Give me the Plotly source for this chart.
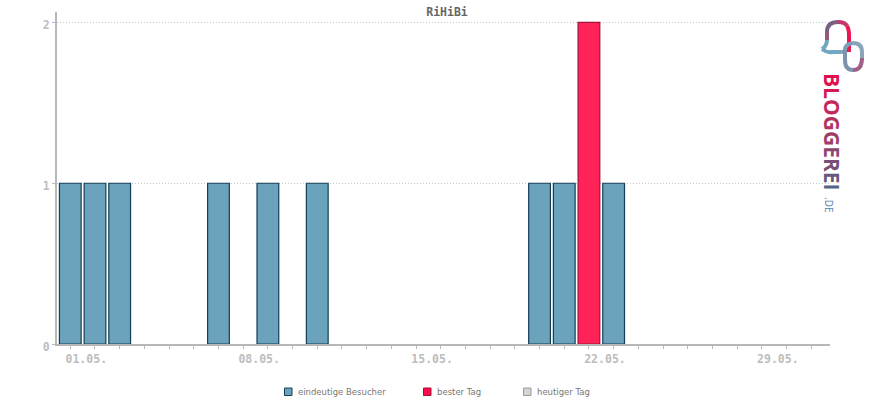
import plotly.graph_objects as go

# days of the month, index 0 = 01.05.
days = list(range(31))
visitors = [1, 1, 1, None, None, None, 1, None, 1, None, 1, None, None, None, None, None, None, None, None, 1, 1, None,
            1, None, None, None, None, None, None, None, None]
best_day = [None] * 21 + [2] + [None] * 9
today = [None] * 31

tick_labels = ["01.05.", "", "", "", "", "", "", "08.05.", "", "", "", "", "", "", "15.05.", "", "", "", "", "", "", "22.05.",
               "", "", "", "", "", "", "29.05.", "", ""]

title = "RiHiBi"
legend_names = ["eindeutige Besucher", "bester Tag", "heutiger Tag"]
legend_fill = ["#6ca3bc", "#ff0a47", "#d4d4d4"]
legend_edge = ["#123f55", "#a3103c", "#9a9a9a"]
legend_left = [284, 423, 523]

logo_letters = list("BLOGGEREI")
logo_colors = ["#e0104f", "#d41a55", "#c4275c", "#b23363", "#a03c68", "#8c4770", "#785075", "#66587e", "#566488"]

W, H = 870, 400
L, R, T, B = 57, 40, 12, 56
AXIS_GREY = "#b8b8b8"
MONO = "DejaVu Sans Mono"


def px(x):
    return (x - L) / (W - L - R)


def py(y):
    return (H - B - y) / (H - T - B)


def path(points):
    # points are pixel positions of the page
    out = []
    for cmd, *xy in points:
        pts = [f"{px(xy[i]):.5f},{py(xy[i + 1]):.5f}" for i in range(0, len(xy), 2)]
        out.append(cmd + " " + " ".join(pts))
    return " ".join(out)


fig = go.Figure()

fig.add_trace(go.Bar(x=days, y=visitors, name=legend_names[0], width=0.88,
                     marker=dict(color="#6ca3bc", line=dict(color="#123f55", width=1.2))))
fig.add_trace(go.Bar(x=days, y=best_day, name=legend_names[1], width=0.88,
                     marker=dict(color="#ff2358", line=dict(color="#a3103c", width=1.2))))
fig.add_trace(go.Bar(x=days, y=today, name=legend_names[2], width=0.88,
                     marker=dict(color="#d4d4d4", line=dict(color="#a0a0a0", width=1.2))))

# logo: speech bubble and ring
segments = [
    ("#6fa8c0", [("M", 822, 49), ("Q", 827, 53, 832, 52), ("L", 840, 52)]),
    ("#7fa0b8", [("M", 840, 52), ("Q", 846, 52, 848, 49)]),
    ("#6fa8c0", [("M", 822, 49), ("Q", 827, 46, 827, 40)]),
    ("#935a80", [("M", 827, 40), ("L", 827, 32)]),
    ("#7a5f85", [("M", 827, 32), ("Q", 827, 22, 838, 22)]),
    ("#c03a68", [("M", 838, 22), ("Q", 845, 22, 847, 26)]),
    ("#f0134f", [("M", 847, 26), ("Q", 849, 29, 849, 36), ("L", 849, 48)]),
    ("#e0204f", [("M", 849, 48), ("L", 849, 52)]),
    ("#7aa0b8", [("M", 845, 50), ("Q", 845, 44, 853, 43)]),
    ("#8aa5bb", [("M", 853, 43), ("Q", 862, 43, 862, 52), ("L", 862, 58)]),
    ("#a06085", [("M", 862, 58), ("Q", 862, 70, 853, 70)]),
    ("#7f92ad", [("M", 853, 70), ("Q", 845, 70, 845, 60), ("L", 845, 50)]),
]
shapes = [dict(type="path", xref="paper", yref="paper", path=path(pts), layer="above",
               line=dict(color=col, width=4)) for col, pts in segments]

annotations = [
    dict(x=px(832), y=py(132), xref="paper", yref="paper", showarrow=False, textangle=90,
         text="<b>" + "".join(f'<span style="color:{c}">{ch}</span>' for ch, c in zip(logo_letters, logo_colors)) + "</b>",
         font=dict(family="Open Sans", size=21, color="#000000"), xanchor="center", yanchor="middle"),
    dict(x=px(829), y=py(204), xref="paper", yref="paper", showarrow=False, textangle=90, text=".DE",
         font=dict(family="Open Sans", size=10, color="#4f86a8"), xanchor="center", yanchor="middle"),
]

# legend row, built by hand because the swatches sit tight against the text
for name, fill, edge, left in zip(legend_names, legend_fill, legend_edge, legend_left):
    shapes.append(dict(type="rect", xref="paper", yref="paper", x0=px(left + 0.5), x1=px(left + 8), y0=py(395.5), y1=py(388),
                       fillcolor=fill, line=dict(color=edge, width=1)))
    annotations.append(dict(x=px(left + 11.5), y=py(392), xref="paper", yref="paper", showarrow=False, text=name,
                            xanchor="left", yanchor="middle",
                            font=dict(family="DejaVu Sans", size=8.5, color="#777777")))

x_range = [-0.538, 30.76]

fig.update_layout(
    width=W, height=H, autosize=False,
    paper_bgcolor="white", plot_bgcolor="white",
    margin=dict(l=L, r=R, t=T, b=B, autoexpand=False),
    barmode="overlay",
    title=dict(text=f"<b>{title}</b>", x=447 / W, xanchor="center", y=1 - 12 / H, yanchor="middle",
               font=dict(family=MONO, size=11.5, color="#666666")),
    showlegend=False,
    xaxis=dict(range=x_range, tickmode="array", tickvals=days, ticktext=tick_labels,
               tickfont=dict(family=MONO, size=11.5, color="#bdbdbd", weight="bold"), ticklabelshift=16, ticklabeloverflow="allow",
               ticks="outside", ticklen=3, tickcolor=AXIS_GREY, tickwidth=1,
               showline=True, linecolor=AXIS_GREY, linewidth=2, showgrid=False, zeroline=False),
    yaxis=dict(range=[0, 2.065], tickmode="array", tickvals=[0, 1, 2], ticktext=["0", "1", "2"],
               tickfont=dict(family=MONO, size=11.5, color="#bdbdbd", weight="bold"), ticklabelshift=3, ticks="outside", ticklen=3,
               tickcolor=AXIS_GREY, showline=True, linecolor=AXIS_GREY, linewidth=2,
               showgrid=True, gridcolor="#c8c8c8", griddash="1px,2px", gridwidth=1, zeroline=False),
    shapes=shapes,
    annotations=annotations,
)

fig.write_html("out.html", config=dict(displayModeBar=False), post_script="document.body.style.margin='0';")
